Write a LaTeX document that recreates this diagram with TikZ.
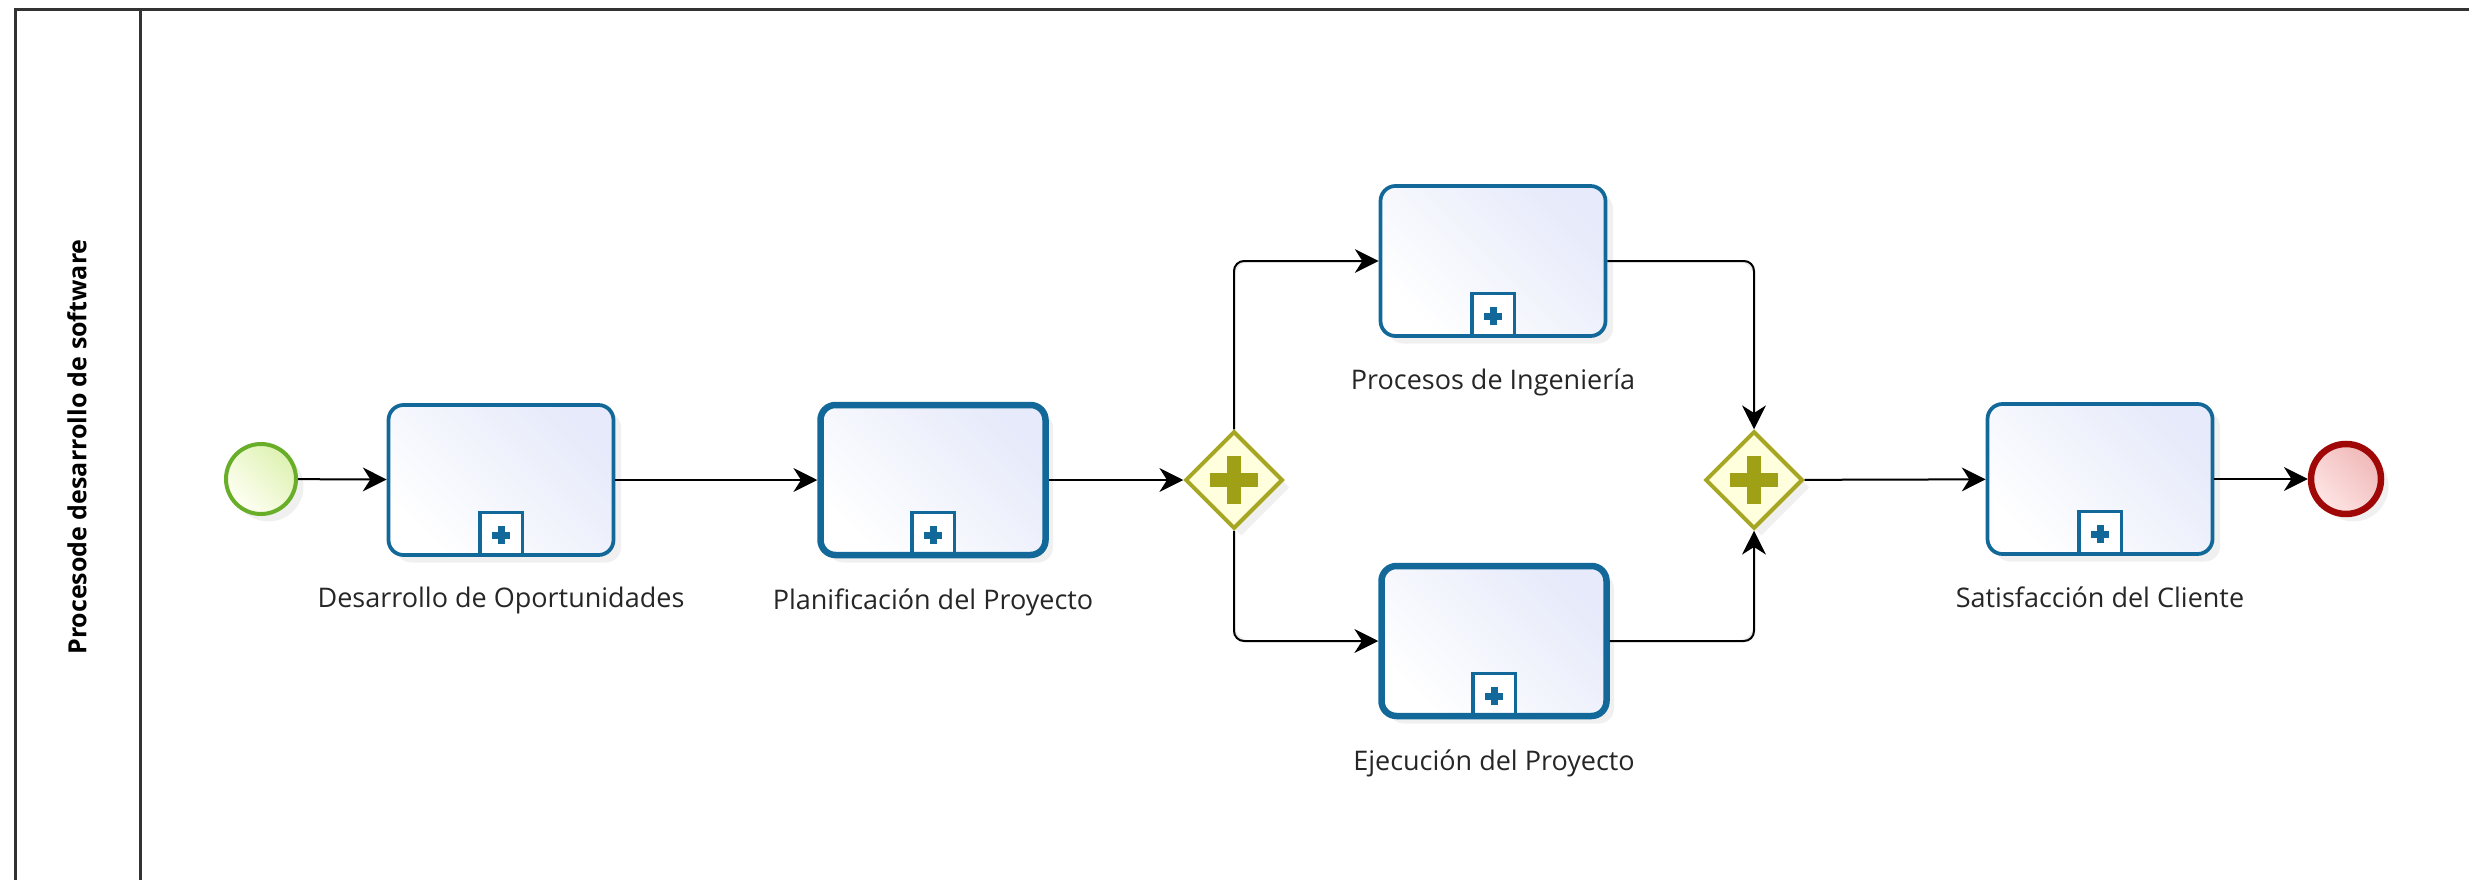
\documentclass[tikz,border=0pt]{standalone}
\usepackage{fontspec}
\setmainfont{Open Sans}
\usepackage{tikz}
\usetikzlibrary{arrows.meta,positioning,shapes.geometric,shadows,backgrounds}

\definecolor{taskblue}{RGB}{18,104,152}
\definecolor{taskfill}{RGB}{230,234,250}
\definecolor{startgreen}{RGB}{104,174,40}
\definecolor{startfill}{RGB}{222,242,178}
\definecolor{endred}{RGB}{160,8,8}
\definecolor{endfill}{RGB}{240,184,184}
\definecolor{gwborder}{RGB}{166,166,34}
\definecolor{gwfill}{RGB}{255,255,222}
\definecolor{gwplus}{RGB}{160,160,22}
\definecolor{ghostgray}{RGB}{236,236,236}

\begin{document}
\begin{tikzpicture}[
        x=0.4pt, y=-0.4pt,
        >={Stealth[length=9.5pt,width=9.5pt,inset=3pt]},
        soft/.style={drop shadow={shadow xshift=3pt, shadow yshift=-3pt, opacity=0.12}},
        task/.style={rectangle, rounded corners=6pt, draw=taskblue, line width=1.5pt,
            left color=white, right color=taskfill, shading angle=135,
            minimum width=90pt, minimum height=60pt, soft,
            path picture={
                \draw[taskblue, line width=1.4pt, fill=white, sharp corners]
                    ([xshift=-8.5pt]path picture bounding box.south) rectangle
                    ([xshift=8.5pt, yshift=17pt]path picture bounding box.south);
                \draw[taskblue, line width=2.8pt, sharp corners]
                    ([xshift=-3.6pt, yshift=8pt]path picture bounding box.south) --
                    ([xshift=3.6pt, yshift=8pt]path picture bounding box.south)
                    ([yshift=4.4pt]path picture bounding box.south) --
                    ([yshift=11.6pt]path picture bounding box.south);
            }},
        bigtask/.style={task, line width=2.6pt},
        startev/.style={circle, draw=startgreen, line width=1.6pt, minimum size=28pt,
            inner sep=0pt, left color=white!80!yellow!20, right color=startfill,
            shading angle=135, soft},
        endev/.style={circle, draw=endred, line width=2.6pt, minimum size=28pt,
            inner sep=0pt, left color=white!90!red, right color=endfill,
            shading angle=135, soft},
        gateway/.style={diamond, draw=gwborder, fill=gwfill, line width=1.6pt,
            minimum width=39pt, minimum height=39pt, inner sep=0pt, soft,
            path picture={
                \draw[gwplus, line width=5.6pt]
                    ([xshift=-9.5pt]path picture bounding box.center) --
                    ([xshift=9.5pt]path picture bounding box.center)
                    ([yshift=-9.5pt]path picture bounding box.center) --
                    ([yshift=9.5pt]path picture bounding box.center);
            }},
        lbl/.style={inner sep=0pt, font=\fontsize{10.8}{13}\selectfont, text=black!85},
        flow/.style={->, line width=0.8pt, rounded corners=4pt},
        ghost/.style={->, draw=ghostgray, line width=0.8pt, rounded corners=6pt},
        lane/.style={draw=black!80, line width=1.2pt}
    ]
        \useasboundingbox (0,0) rectangle (2469,880);

        % pool and lane
        \draw[lane] (15,880) -- (15,9) -- (2469,9);
        \draw[lane] (140,9) -- (140,880);
        \node[rotate=90, font=\bfseries\fontsize{10}{12}\selectfont] (lanename) at (77,447)
            {Procesode desarrollo de software};

        % elements
        \node[startev] (inicio) at (261,479) {};
        \node[task] (oport) at (501,480) {};
        \node[bigtask] (plan) at (933,480) {};
        \node[gateway] (split) at (1234,480) {};
        \node[task] (ingen) at (1493,261) {};
        \node[bigtask] (ejec) at (1494,641) {};
        \node[gateway] (join) at (1754,480) {};
        \node[task] (satisf) at (2100,479) {};
        \node[endev] (fin) at (2346,479) {};

        % labels
        \node[lbl, below=12pt of oport] (oportlbl) {Desarrollo de Oportunidades};
        \node[lbl, below=12pt of plan] (planlbl) {Planificación del Proyecto};
        \node[lbl, below=12pt of ingen] (ingenlbl) {Procesos de Ingeniería};
        \node[lbl, below=12pt of ejec] (ejeclbl) {Ejecución del Proyecto};
        \node[lbl, below=12pt of satisf] (satisflbl) {Satisfacción del Cliente};

        % faint reflection of the flows
        \begin{scope}[on background layer, transform canvas={shift={(10pt,-10pt)}}]
            \draw[ghost] (inicio) -- (oport);
            \draw[ghost] (oport) -- (plan);
            \draw[ghost] (plan) -- (split);
            \draw[ghost] (split.north) |- (ingen.west);
            \draw[ghost] (split.south) |- (ejec.west);
            \draw[ghost] (ingen.east) -| (join.north);
            \draw[ghost] (ejec.east) -| (join.south);
            \draw[ghost] (join) -- (satisf);
            \draw[ghost] (satisf) -- (fin);
        \end{scope}

        % sequence flows
        \draw[flow] (inicio) -- (oport);
        \draw[flow] (oport) -- (plan);
        \draw[flow] (plan) -- (split);
        \draw[flow] (split.north) |- (ingen.west);
        \draw[flow] (split.south) |- (ejec.west);
        \draw[flow] (ingen.east) -| (join.north);
        \draw[flow] (ejec.east) -| (join.south);
        \draw[flow] (join) -- (satisf);
        \draw[flow] (satisf) -- (fin);
    \end{tikzpicture}
\end{document}
